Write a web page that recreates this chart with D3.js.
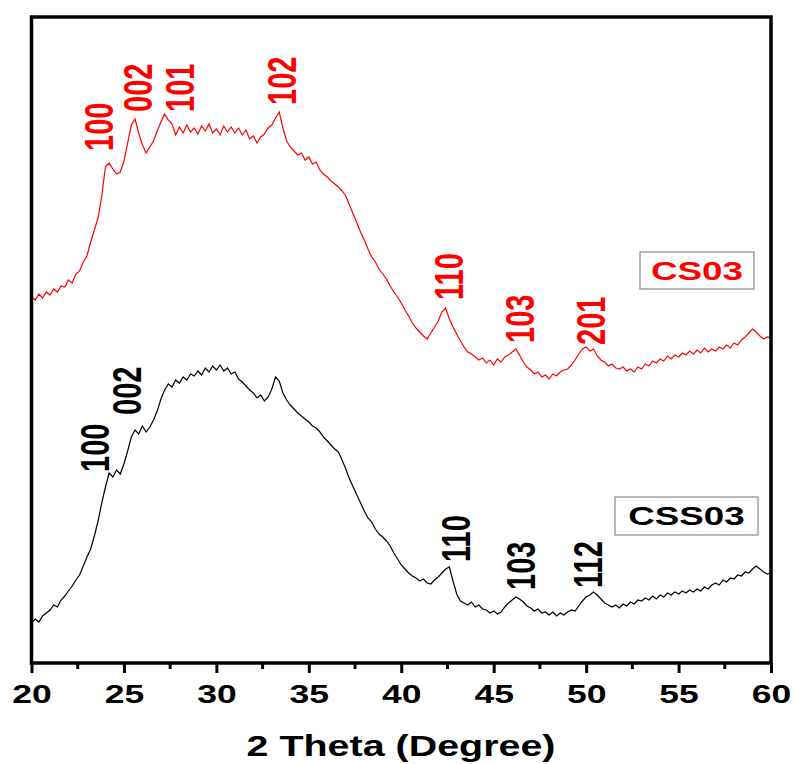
<!DOCTYPE html>
<meta charset="utf-8">
<html>
<head>
<script src="https://d3js.org/d3.v7.min.js"></script>
<style>
  body { margin: 0; background: #fff; }
  text { font-family: "Liberation Sans", Arial, sans-serif; font-weight: bold; }
</style>
</head>
<body>
<div id="xrd"></div>
<script>
  // 2 theta grid: 20 to 60 every 0.2 degree
  const twoTheta = d3.range(0, 201).map(i => +(20 + i * 0.2).toFixed(1));

  // CS03 intensity (a.u.)
  const cs03 = [
    366, 363, 369, 365, 371,  368, 374, 371, 377, 376,
    383, 380, 389, 392, 401,  407, 421, 433, 445, 467,
    496, 500, 494, 489, 491,  502, 520, 538, 544, 530,
    518, 510, 516, 522, 532,  541, 549, 543, 539, 528,
    536, 530, 538, 531, 535,  529, 537, 532, 539, 530,
    534, 528, 537, 531, 536,  530, 535, 528, 533, 524,
    527, 520, 526, 529, 535,  538, 545, 551, 535, 522,
    516, 512, 508, 510, 503,  506, 499, 501, 493, 489,
    486, 482, 479, 476, 472,  467, 458, 449, 440, 431,
    423, 414, 406, 401, 394,  389, 384, 377, 371, 366,
    360, 353, 347, 340, 335,  331, 327, 324, 330, 336,
    342, 351, 355, 344, 336,  329, 322, 316, 311, 309,
    306, 303, 305, 300, 303,  298, 304, 301, 306, 308,
    311, 314, 308, 301, 296,  293, 289, 291, 286, 288,
    284, 289, 287, 291, 293,  294, 298, 303, 309, 314,
    316, 312, 314, 307, 303,  301, 297, 299, 295, 294,
    296, 292, 294, 291, 296,  294, 299, 297, 302, 300,
    304, 302, 307, 304, 308,  306, 310, 308, 312, 309,
    313, 310, 315, 311, 314,  312, 316, 314, 318, 315,
    320, 318, 323, 326, 330,  334, 331, 327, 324, 326,
    325
  ];

  // CSS03 intensity (a.u.)
  const css03 = [
    40, 44, 41, 47, 50,  53, 58, 56, 63, 67,
    72, 77, 83, 88, 97,  106, 114, 127, 142, 160,
    176, 190, 186, 193, 189,  199, 212, 226, 233, 229,
    237, 231, 236, 243, 252,  264, 273, 279, 276, 283,
    280, 286, 283, 289, 287,  292, 288, 295, 291, 297,
    293, 298, 292, 295, 289,  291, 284, 281, 277, 273,
    270, 265, 268, 262, 266,  274, 286, 282, 270, 263,
    258, 254, 250, 247, 244,  241, 237, 235, 231, 226,
    222, 218, 214, 211, 203,  194, 184, 176, 168, 160,
    152, 145, 141, 134, 129,  126, 122, 117, 110, 104,
    98, 94, 90, 87, 85,  82, 84, 80, 79, 83,
    86, 90, 94, 96, 82,  69, 62, 60, 58, 61,
    56, 58, 54, 53, 50,  52, 49, 51, 56, 60,
    63, 66, 64, 61, 57,  55, 52, 54, 50, 51,
    48, 51, 47, 50, 48,  51, 53, 52, 57, 62,
    66, 68, 71, 68, 64,  60, 58, 56, 58, 55,
    59, 57, 61, 59, 63,  62, 65, 63, 67, 64,
    68, 66, 70, 68, 71,  69, 72, 70, 73, 71,
    74, 72, 76, 74, 78,  80, 78, 83, 81, 85,
    84, 88, 87, 91, 90,  94, 97, 94, 91, 89,
    90
  ];

  // peak labels: hkl, 2 theta, intensity where the label starts
  const csPeaks = [
    {hkl: "100", t: 23.63, i: 512},
    {hkl: "002", t: 25.74, i: 551},
    {hkl: "101", t: 28.01, i: 551},
    {hkl: "102", t: 33.53, i: 558},
    {hkl: "110", t: 42.52, i: 363},
    {hkl: "103", t: 46.36, i: 320},
    {hkl: "201", t: 50.20, i: 318}
  ];
  const cssPeaks = [
    {hkl: "100", t: 23.41, i: 191},
    {hkl: "002", t: 25.14, i: 248},
    {hkl: "110", t: 42.90, i: 101},
    {hkl: "103", t: 46.41, i: 73},
    {hkl: "112", t: 50.04, i: 75}
  ];

  const xTicks = [20, 25, 30, 35, 40, 45, 50, 55, 60];
  const xMinor = [22.5, 27.5, 32.5, 37.5, 42.5, 47.5, 52.5, 57.5];

  const W = 795, H = 764;
  const stretch = 1.42;   // text in the picture is widened

  const svg = d3.select("#xrd").append("svg")
    .attr("width", W)
    .attr("height", H);

  const x = d3.scaleLinear().domain([20, 60]).range([31.5, 771]);
  const y = d3.scaleLinear().domain([0, 646]).range([663, 17]);

  const line = d3.line()
    .x((d, i) => x(twoTheta[i]))
    .y(d => y(d));

  svg.append("path")
    .datum(css03)
    .attr("fill", "none")
    .attr("stroke", "#000")
    .attr("stroke-width", 1.2)
    .attr("d", line);

  svg.append("path")
    .datum(cs03)
    .attr("fill", "none")
    .attr("stroke", "#ff0000")
    .attr("stroke-width", 1.2)
    .attr("d", line);

  // frame
  svg.append("rect")
    .attr("x", x(20))
    .attr("y", y(646))
    .attr("width", x(60) - x(20))
    .attr("height", y(0) - y(646))
    .attr("fill", "none")
    .attr("stroke", "#000")
    .attr("stroke-width", 3.5);

  // x axis
  const xAxis = svg.append("g")
    .attr("transform", `translate(0,${y(0)})`)
    .call(d3.axisBottom(x).tickValues(xTicks).tickSize(10).tickPadding(12).tickFormat(d3.format("d")));
  xAxis.select(".domain").remove();
  xAxis.selectAll(".tick line").attr("stroke-width", 3);
  xAxis.selectAll(".tick text")
    .attr("fill", "#000")
    .style("font-size", "25px")
    .style("font-family", "'Liberation Sans', Arial, sans-serif")
    .style("font-weight", "bold")
    .attr("transform", `scale(${stretch},1)`);

  svg.append("g").selectAll("line")
    .data(xMinor)
    .join("line")
      .attr("x1", d => x(d))
      .attr("x2", d => x(d))
      .attr("y1", y(0))
      .attr("y2", y(0) + 6)
      .attr("stroke", "#000")
      .attr("stroke-width", 3);

  svg.append("text")
    .attr("transform", `translate(401,756) scale(1.36,1)`)
    .attr("text-anchor", "middle")
    .style("font-size", "29px")
    .text("2 Theta (Degree)");

  // peak labels
  function peakLabels(peaks, color) {
    svg.append("g").selectAll("text")
      .data(peaks)
      .join("text")
        .attr("transform", d => `translate(${x(d.t)},${y(d.i)}) scale(${stretch},1) rotate(-90)`)
        .attr("dy", "0.36em")
        .attr("fill", color)
        .style("font-size", "29px")
        .text(d => d.hkl);
  }
  peakLabels(csPeaks, "#ff0000");
  peakLabels(cssPeaks, "#000");

  // sample name boxes
  function nameBox(name, color, bx, by, bw, bh) {
    svg.append("rect")
      .attr("x", bx).attr("y", by)
      .attr("width", bw).attr("height", bh)
      .attr("fill", "#fff")
      .attr("stroke", "#888")
      .attr("stroke-width", 1.2);
    svg.append("text")
      .attr("transform", `translate(${bx + bw / 2},${by + bh / 2 + 9}) scale(1.47,1)`)
      .attr("text-anchor", "middle")
      .attr("fill", color)
      .style("font-size", "25px")
      .text(name);
  }
  nameBox("CS03", "#ff0000", 640, 252, 114, 37);
  nameBox("CSS03", "#000", 615, 497, 143, 38);
</script>
</body>
</html>
